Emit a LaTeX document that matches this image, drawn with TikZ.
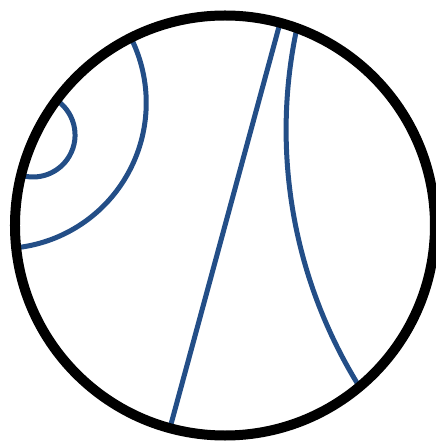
\documentclass[tikz,border=0pt]{standalone}
\usepackage{amsmath,amssymb}
\usepackage{tikz}
\definecolor{geoblue}{RGB}{35,78,135}

\begin{document}
\begin{tikzpicture}[x=210pt,y=210pt]
  \useasboundingbox (-1.0714,-1.0357) rectangle (1.0,1.0738);
  \coordinate (o) at (0,0);
  \begin{scope}
    \clip (o) circle (1);
    \draw[geoblue,line width=5pt] (-0.914,0.431) ++(60:0.2) arc[start angle=60,end angle=-110,radius=0.2];
    \draw[geoblue,line width=5pt] (-1.069,0.584) ++(28:0.694) arc[start angle=28,end angle=-86,radius=0.694];
    \draw[geoblue,line width=5pt] (74.8:1.05) -- (254.8:1.05);
    \draw[geoblue,line width=5pt] (2.608,0.455) ++(166:2.317) arc[start angle=166,end angle=213,radius=2.317];
  \end{scope}
  \draw[line width=10pt] (o) circle (1);
\end{tikzpicture}
\end{document}
